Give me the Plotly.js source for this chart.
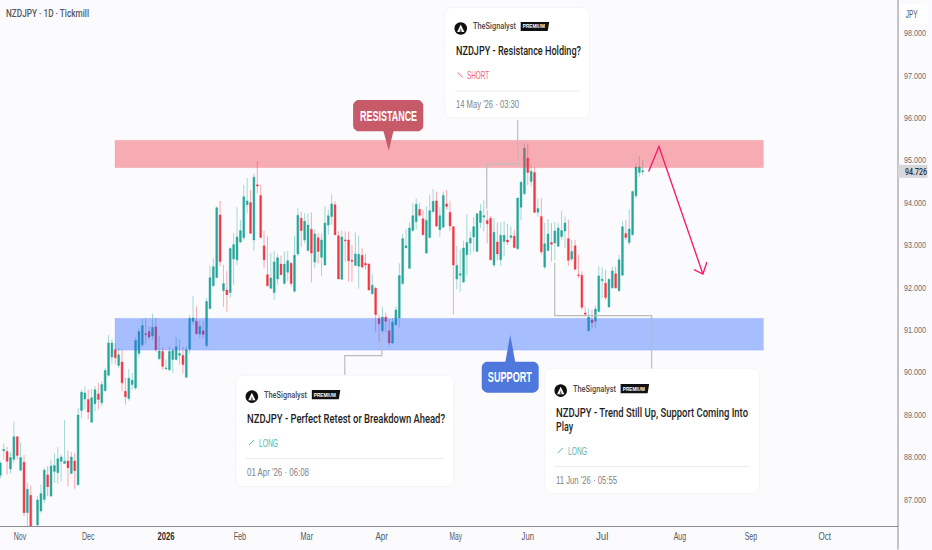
<!DOCTYPE html>
<html><head><meta charset="utf-8">
<script src="https://cdn.plot.ly/plotly-3.0.1.min.js"></script>
<style>html,body{margin:0;padding:0;background:#fbfbfe}#c{width:932px;height:550px}</style>
</head><body><div id="c"></div>
<script>
// one row per daily bar: open, high, low, close (JPY)
var opens=[87.57,88.15,88.13,87.72,87.94,88.48,87.69,87.88,86.69,87.10,86.30,86.40,86.73,87.00,87.58,87.08,87.66,87.63,87.90,87.85,87.91,87.61,87.91,87.35,89.10,89.37,89.36,88.82,89.26,89.49,89.28,89.57,89.93,90.36,90.53,90.16,90.24,89.55,89.38,89.71,89.63,90.44,90.65,90.91,90.96,90.86,91.07,90.32,90.49,90.08,90.06,90.30,90.30,90.40,90.40,89.88,90.55,91.20,91.20,90.90,90.98,90.63,91.50,92.04,92.23,93.71,91.92,91.94,91.88,92.67,92.65,93.07,93.17,93.95,94.00,93.12,94.42,94.17,92.98,92.30,91.98,91.88,92.20,92.55,92.09,92.36,92.57,91.91,92.79,93.63,93.12,92.87,93.37,92.60,93.17,92.71,92.53,93.47,93.67,93.95,93.22,92.19,93.12,93.12,92.64,92.52,92.50,92.76,92.57,92.55,91.85,91.98,91.27,90.98,91.30,90.98,90.69,91.12,91.28,92.09,92.93,92.45,93.34,93.55,93.84,93.62,92.81,93.18,93.79,94.04,93.36,93.42,93.97,93.77,93.43,92.20,92.29,92.13,92.77,93.05,93.19,92.85,93.53,93.66,93.58,93.63,92.53,93.07,92.65,93.08,93.12,93.18,93.21,92.91,93.89,94.21,95.05,94.50,94.71,93.77,93.67,92.48,92.87,93.06,93.05,92.97,93.20,93.33,93.15,92.67,92.98,92.30,92.29,91.40,90.98,91.23,91.20,91.43,92.16,92.10,91.54,91.99,92.32,91.92,92.29,93.27,93.06,93.24,94.16,94.71,94.73];
var highs=[87.90,88.32,88.24,88.12,88.84,88.49,88.34,88.05,87.40,87.33,86.36,87.08,87.35,87.75,87.79,87.94,88.08,88.24,88.06,88.87,88.15,88.12,88.10,89.16,89.59,89.67,89.59,89.61,89.67,89.75,89.79,90.10,90.88,90.78,90.69,90.57,90.53,89.87,90.08,89.98,90.83,91.04,91.26,91.28,91.08,91.38,91.28,90.85,90.59,90.30,90.61,90.57,90.83,90.77,90.59,90.61,91.35,91.80,91.55,91.20,91.20,91.75,92.51,92.69,93.91,94.04,92.53,92.38,92.95,93.28,93.89,93.59,94.42,94.58,94.29,94.68,94.98,94.42,93.34,93.20,92.81,92.86,92.79,92.75,92.85,92.86,92.60,93.22,93.87,93.79,93.75,93.75,93.77,93.36,93.28,93.28,93.91,93.83,94.20,94.03,93.32,93.34,93.32,93.32,93.00,93.30,93.22,92.93,92.79,92.57,92.31,92.01,91.36,91.54,91.40,91.25,91.28,91.55,92.57,93.26,93.37,93.53,93.99,94.10,93.99,93.83,93.91,94.18,94.32,94.26,93.89,94.26,94.30,94.03,93.45,92.98,92.90,93.10,93.73,93.32,93.66,93.75,93.97,94.05,93.83,93.69,93.63,93.53,93.53,93.56,93.50,93.44,93.36,94.11,94.50,95.40,95.39,94.89,94.84,94.10,94.10,93.52,93.61,93.52,93.54,93.52,93.81,93.67,93.60,93.12,93.12,92.77,92.38,91.55,91.51,91.47,91.57,92.50,92.47,92.42,92.22,92.49,92.49,92.77,93.56,93.59,93.84,94.29,94.93,95.09,95.01];
var lows=[87.50,87.94,87.59,87.61,87.86,87.94,87.66,86.61,86.37,86.10,85.90,86.37,86.69,86.92,87.08,87.06,87.39,87.38,87.43,87.85,87.31,87.60,87.25,87.33,88.92,89.12,88.89,88.82,89.08,89.12,89.20,89.53,89.90,90.20,90.18,90.10,89.55,89.24,89.33,89.59,89.58,90.34,90.59,90.65,90.77,90.77,90.48,90.28,90.06,90.07,90.02,89.98,90.28,90.18,89.97,89.86,90.44,91.12,90.88,90.80,90.80,90.58,91.50,92.02,92.23,92.50,91.54,91.43,91.76,92.06,92.53,93.04,93.11,93.75,93.26,92.86,94.22,93.16,92.45,92.02,91.96,91.71,92.06,92.30,92.07,92.14,92.02,91.88,92.73,92.95,93.03,92.85,92.12,92.45,92.57,92.26,92.51,93.24,93.48,93.24,92.20,92.18,92.61,92.14,92.14,92.50,91.97,92.45,92.42,91.93,91.83,90.96,90.70,90.90,90.94,90.63,90.67,91.10,91.06,92.06,92.93,92.43,93.32,93.36,93.67,93.24,92.79,93.16,93.75,93.42,93.19,93.40,93.83,93.32,91.36,91.96,91.90,92.10,92.28,92.77,92.85,92.85,93.40,93.32,93.04,92.64,92.48,92.64,92.51,92.73,93.00,93.12,92.93,92.89,93.58,94.18,94.41,94.38,93.75,93.67,92.77,92.43,92.85,92.61,92.64,92.95,93.12,92.93,92.51,92.61,92.41,92.22,91.47,91.32,90.95,91.03,91.03,91.41,91.75,91.71,91.52,91.97,91.97,91.90,92.26,93.12,93.00,93.22,94.10,94.61,94.65];
var closes=[87.86,88.18,87.90,87.99,88.48,88.04,87.99,86.69,87.24,86.20,86.10,86.99,87.14,87.69,87.30,87.79,87.80,87.96,88.00,87.90,87.75,88.00,87.68,88.99,89.53,89.51,89.06,89.40,89.59,89.36,89.71,90.04,90.69,90.69,90.34,90.41,89.75,89.42,89.86,89.81,90.75,90.96,91.10,90.89,90.83,91.06,90.53,90.50,90.14,90.10,90.49,90.51,90.60,90.44,90.18,90.53,91.27,91.28,90.91,91.08,90.89,91.67,92.23,92.49,93.88,92.61,92.09,91.83,92.92,93.01,93.19,93.34,94.14,94.04,93.28,94.60,94.39,93.18,92.65,92.04,92.22,92.60,92.70,92.30,92.55,92.63,92.09,92.76,93.70,93.34,93.56,93.47,92.81,93.26,92.85,93.12,93.52,93.69,93.97,93.24,92.20,93.19,93.10,92.63,92.62,92.79,92.78,92.48,92.53,91.94,92.05,91.36,91.14,91.30,91.20,90.69,91.18,91.47,92.28,93.15,92.98,93.40,93.69,93.96,93.70,93.24,93.58,93.81,94.03,93.45,93.69,94.17,93.91,93.45,92.53,92.52,92.32,92.93,93.06,93.16,93.43,93.74,93.80,93.69,93.50,92.65,93.30,92.79,93.23,93.23,93.07,93.22,92.94,94.11,94.48,95.28,94.71,94.74,93.77,93.86,92.84,93.03,93.26,93.02,93.33,93.40,93.34,93.52,92.64,92.85,92.43,92.28,91.53,91.37,91.30,91.17,91.49,92.27,92.19,91.76,92.19,92.39,91.99,92.65,93.43,93.18,93.38,94.26,94.84,94.84,94.75];
var priceTicks=[87,88,89,90,91,92,93,94,95,96,97,98];
var monthLabels=['Nov','Dec','2026','Feb','Mar','Apr','May','Jun','Jul','Aug','Sep','Oct'];
var monthBars=[5.8,26,49,70.85,90.65,112.8,134.7,156,178,201,222,243.8];
var lastPrice=94.726;
var resistanceZone=[94.82,95.468], supportZone=[90.52,91.274];
var zoneBars=[33.9,225.7];
var cards=[
 {name:'TheSignalyst',title:['NZDJPY - Resistance Holding?'],dir:'SHORT',date:"14 May '26 · 03:30"},
 {name:'TheSignalyst',title:['NZDJPY - Perfect Retest or Breakdown Ahead?'],dir:'LONG',date:"01 Apr '26 · 06:08"},
 {name:'TheSignalyst',title:['NZDJPY - Trend Still Up, Support Coming Into','Play'],dir:'LONG',date:"11 Jun '26 · 05:55"}
];

var FONT='"Liberation Sans",sans-serif', MED='Roboto,"Liberation Sans",sans-serif';
var PW=898.5,PH=526.5;
function X(p){return p/PW} function Y(p){return 1-p/PH}
var xs=opens.map(function(_,i){return i});
var shapes=[],ann=[];
function P(d,fill,line,w,layer){shapes.push({type:'path',xref:'paper',yref:'paper',path:d,fillcolor:fill||'rgba(0,0,0,0)',line:{color:line||'rgba(0,0,0,0)',width:w||0},layer:layer||'above'})}
function pts(a,close){return a.map(function(q,i){return (i?'L':'M')+X(q[0]).toFixed(5)+','+Y(q[1]).toFixed(5)}).join(' ')+(close?' Z':'')}
function rrect(x0,y0,x1,y1,r,fill,line,w){
 var n=[],cs=[[x1-r,y0+r,-90],[x1-r,y1-r,0],[x0+r,y1-r,90],[x0+r,y0+r,180]];
 cs.forEach(function(c){for(var k=0;k<=6;k++){var t=(c[2]+k*15)*Math.PI/180;n.push([c[0]+r*Math.cos(t),c[1]+r*Math.sin(t)])}});
 P(pts(n,true),fill,line,w);
}
function T(txt,px,py,size,color,opt){opt=opt||{};ann.push({xref:'paper',yref:'paper',x:X(px),y:Y(py),text:txt,showarrow:false,xanchor:opt.a||'left',yanchor:'middle',align:opt.a||'left',font:{family:opt.f||FONT,size:size,color:color,weight:opt.wt||400},bgcolor:opt.bg,borderpad:0})}
function seg(a){P(pts(a),null,'#bcbcbe',1.2)}

// zones
[[resistanceZone,'rgba(242,54,69,0.4)','rgba(242,54,69,0.08)'],[supportZone,'rgba(41,98,255,0.4)','rgba(41,98,255,0.08)']].forEach(function(z){
 shapes.push({type:'rect',xref:'x',yref:'y',x0:zoneBars[0],x1:zoneBars[1],y0:z[0][0],y1:z[0][1],fillcolor:z[1],line:{color:z[2],width:1},layer:'above'});
});
// connectors
seg([[518,120],[518,164],[487,164],[487,209]]);
seg([[345,376],[345,356],[382,356],[382,333]]);
seg([[652,370],[652,316],[555,316],[555,263]]);
// cards
function card(c,b,tx,ty,avatar,nameX,badgeX,dy){
 rrect(b[0],b[1],b[2],b[3],7,'#ffffff','#f1f1f4',0.7);
 var ax=avatar[0],ay=avatar[1];
 var circ=[];for(var i=0;i<24;i++){var t=i/24*2*Math.PI;circ.push([ax+6.3*Math.cos(t),ay+6.3*Math.sin(t)])}
 P(pts(circ,true),'#101012');
 P(pts([[ax,ay-4],[ax+3.6,ay+3.6],[ax-3.6,ay+3.6]],true),'#ffffff');
 P(pts([[ax,ay-0.5],[ax+1.3,ay+3.6],[ax-1.3,ay+3.6]],true),'#666666');
 T(c.name,nameX,ay-2,9,'#4a4a4e',{f:MED,wt:500});
 var bx=badgeX,by=ay-2;
 P(pts([[bx,by-4.6],[bx+28.5,by-4.6],[bx+27,by+4.6],[bx,by+4.6]],true),'#111113');
 T('PREMIUM',bx+13,by,5,'#ffffff',{a:'center',wt:700});
 c.title.forEach(function(l,i){T(l,tx,ty+i*14,12,'#1e1e22',{f:MED,wt:500})});
 var dyY=ty+24+(c.title.length-1)*14;
 var col=c.dir==='LONG'?'#4fb8ae':'#f4616e';
 if(c.dir==='LONG')P(pts([[tx+3,dyY+2.5],[tx+8,dyY-2.5]]),null,col,1);
 else P(pts([[tx+3,dyY-2.5],[tx+8,dyY+2.5]]),null,col,1);
 T(c.dir,tx+(c.dir==='LONG'?12:11),dyY,11,col);
 P(pts([[tx,dy],[b[2]-10,dy]]),null,'#ececef',1);
 T(c.date,tx,dy+13.5,10.5,'#80828a');
}
card(cards[0],[445,7.5,590,118],455,51,[461,28.5],472,521,91);
card(cards[1],[236,375.5,454,487],246,419,[252,397],263,312,459);
card(cards[2],[545,369,760,494],555,413,[561,391],572,621,467);

// callouts
rrect(353.3,100,423.5,131.5,6,'#c65a68');
P(pts([[383.3,130],[389,151],[394,130]],true),'#c65a68');
T('RESISTANCE',388.5,116,14,'#ffffff',{a:'center',wt:700});
rrect(482,362,539,393,6,'#4f78dc');
P(pts([[505.5,363],[510.5,335],[515.7,363]],true),'#4f78dc');
T('SUPPORT',510.5,377.5,14,'#ffffff',{a:'center',wt:700});
// projection arrow
P(pts([[649,171.7],[659.3,146.7],[703.3,274.3]]),null,'#f5206e',1.4);
P(pts([[694.3,270],[703.3,274.3],[707.3,262.3]]),null,'#f5206e',1.4);

// header & right side
T('NZDJPY · 1D · Tickmill',5,14,10.5,'#55575e',{f:MED,wt:500});
rrect(901,4,928,24,3,'#ffffff');
T('JPY',912.5,14,10.5,'#55575e',{a:'center'});
P(pts([[898.5,0],[898.5,550]]),null,'#8c8c90',1);
P(pts([[898.5,165],[928,165],[928,178],[898.5,178]],true),'#d6d7db');
ann.push({xref:'paper',yref:'y',x:X(904),y:lastPrice,text:lastPrice.toFixed(3),showarrow:false,xanchor:'left',yanchor:'middle',align:'left',font:{family:MED,size:9,color:'#2a2a2e',weight:500}});

var trace={type:'candlestick',x:xs,open:opens,high:highs,low:lows,close:closes,whiskerwidth:0,
 increasing:{line:{color:'rgba(38,166,154,0.42)',width:1},fillcolor:'#26a69a'},
 decreasing:{line:{color:'rgba(242,54,69,0.42)',width:1},fillcolor:'#f23645'},hoverinfo:'skip'};
var layout={width:932,height:550,margin:{l:0,r:33.5,t:0,b:23.5,pad:0},showlegend:false,
 paper_bgcolor:'#fbfbfe',plot_bgcolor:'#fbfbfe',boxgap:0.2,
 xaxis:{type:'linear',range:[-0.1,265.5],tickmode:'array',tickvals:monthBars,ticktext:monthLabels,showgrid:false,zeroline:false,
   showline:true,linecolor:'#8c8c90',linewidth:1,ticks:'',tickfont:{family:FONT,size:10.5,color:'#55575e'},rangeslider:{visible:false},fixedrange:true},
 yaxis:{side:'right',range:[86.375,98.777],tickmode:'array',tickvals:priceTicks,ticktext:priceTicks.map(function(v){return v.toFixed(3)}),showgrid:false,zeroline:false,
   showline:false,ticks:'',ticklabelstandoff:5,tickfont:{family:FONT,size:9.2,color:'#6a6c74'},fixedrange:true},
 shapes:shapes,annotations:ann};

// the picture's lettering is narrow: squeeze each text to its measured width
var textWidths={'NZDJPY - Resistance Holding?':125,'NZDJPY - Perfect Retest or Breakdown Ahead?':198,'NZDJPY - Trend Still Up, Support Coming Into':192,'Play':17,
 'TheSignalyst':43,"14 May '26 · 03:30":63,"01 Apr '26 · 06:08":62,"11 Jun '26 · 05:55":61,'LONG':19,'SHORT':22,'NZDJPY · 1D · Tickmill':83,'JPY':12,
 'RESISTANCE':57,'SUPPORT':44,'PREMIUM':22,'94.726':22};
function squeeze(el,w,keepLeft){
 var L0=el.getBoundingClientRect().left;
 el.setAttribute('textLength',w);el.setAttribute('lengthAdjust','spacingAndGlyphs');
 if(keepLeft){var L1=el.getBoundingClientRect().left;el.setAttribute('x',parseFloat(el.getAttribute('x')||0)+(L0-L1));}
}
Plotly.newPlot('c',[trace],layout,{displayModeBar:false,staticPlot:true}).then(function(gd){
 gd.querySelectorAll('.annotation-text').forEach(function(el){
  var s=el.textContent,w=textWidths[s];if(!w)return;
  squeeze(el,w,['RESISTANCE','SUPPORT','PREMIUM','JPY'].indexOf(s)<0);
 });
 gd.querySelectorAll('.xtick text').forEach(function(el){
  var s=el.textContent;squeeze(el,s==='2026'?17:12.5,false);
  if(s==='2026'){el.style.fontWeight='700';el.style.fill='#2a2a2e';}
 });
 gd.querySelectorAll('.ytick text').forEach(function(el){squeeze(el,22,true)});
});
</script></body></html>
